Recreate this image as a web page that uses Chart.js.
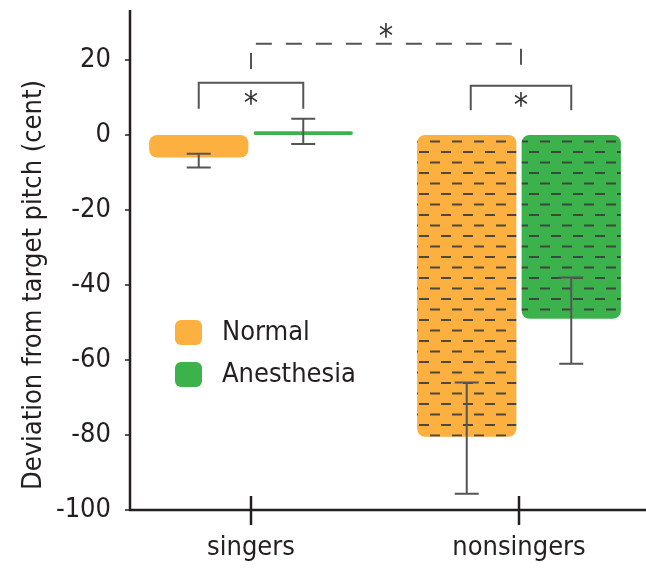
<!DOCTYPE html>
<html>
<head>
<meta charset="utf-8">
<script src="https://cdn.jsdelivr.net/npm/chart.js@4.4.0/dist/chart.umd.min.js"></script>
<style>
  html, body { margin: 0; padding: 0; background: #fff; overflow: hidden; }
  #wrap { width: 660px; height: 568px; }
</style>
</head>
<body>
<div id="wrap"><canvas id="pitchChart"></canvas></div>
<script>
// data
var groups = ['singers', 'nonsingers'];
var seriesNames = ['Normal', 'Anesthesia'];
var normalMean = [-6, -80.5];
var anesthesiaMean = [1, -49];
var normalErrHigh = [-5, -66];
var normalErrLow = [-8.7, -95.7];
var anesthesiaErrHigh = [4.3, -38];
var anesthesiaErrLow = [-2.4, -61];
var yTicks = [-100, -80, -60, -40, -20, 0, 20];

var FONT = '"Liberation Sans Narrow", "DejaVu Sans Condensed", sans-serif';
var INK = '#231f20';
var ORANGE = '#fbb040';
var GREEN = '#3cb24c';

Chart.defaults.font.family = FONT;
Chart.defaults.color = INK;

// horizontal dash hatch on top of a base colour
function hatch(base) {
    var c = document.createElement('canvas');
    c.width = 22; c.height = 21;
    var g = c.getContext('2d');
    g.fillStyle = base;
    g.fillRect(0, 0, 22, 21);
    g.fillStyle = 'rgba(60,60,60,0.9)';
    g.fillRect(1, 4, 10, 2);
    g.fillRect(12, 14.5, 10, 2);
    return g.createPattern(c, 'repeat');
}

var errors = [[normalErrHigh, normalErrLow], [anesthesiaErrHigh, anesthesiaErrLow]];

var overlay = {
    id: 'overlay',
    afterDraw: function (chart) {
        var ctx = chart.ctx, x = chart.scales.x, y = chart.scales.y;
        var ca = chart.chartArea;
        var W = chart.width;
        ctx.save();

        // axes
        ctx.strokeStyle = INK;
        ctx.lineWidth = 2.5;
        ctx.beginPath();
        ctx.moveTo(130, ca.top);
        ctx.lineTo(130, ca.bottom);
        ctx.lineTo(W, ca.bottom);
        ctx.stroke();
        ctx.lineWidth = 1.5;
        yTicks.forEach(function (v) {
            var py = y.getPixelForValue(v);
            ctx.beginPath();
            ctx.moveTo(125, py);
            ctx.lineTo(130, py);
            ctx.stroke();
        });
        ctx.lineWidth = 2.5;
        groups.forEach(function (g, i) {
            var px = x.getPixelForValue(i);
            ctx.beginPath();
            ctx.moveTo(px, ca.bottom - 14);
            ctx.lineTo(px, ca.bottom + 15);
            ctx.stroke();
        });

        // axis title
        ctx.fillStyle = INK;
        ctx.font = '27px ' + FONT;
        ctx.textAlign = 'center';
        ctx.textBaseline = 'middle';
        ctx.save();
        ctx.translate(34, 285);
        ctx.rotate(-Math.PI / 2);
        ctx.fillText('Deviation from target pitch (cent)', 0, 0);
        ctx.restore();

        // error bars
        ctx.strokeStyle = '#555';
        ctx.lineWidth = 2;
        errors.forEach(function (e, d) {
            var meta = chart.getDatasetMeta(d);
            meta.data.forEach(function (bar, j) {
                var top = y.getPixelForValue(e[0][j]);
                var bot = y.getPixelForValue(e[1][j]);
                ctx.beginPath();
                ctx.moveTo(bar.x, top); ctx.lineTo(bar.x, bot);
                ctx.moveTo(bar.x - 12, top); ctx.lineTo(bar.x + 12, top);
                ctx.moveTo(bar.x - 12, bot); ctx.lineTo(bar.x + 12, bot);
                ctx.stroke();
            });
        });

        // significance brackets
        function bracket(x1, x2, vTop, vFoot, dashed) {
            var t = y.getPixelForValue(vTop), f = y.getPixelForValue(vFoot);
            ctx.setLineDash(dashed ? [16, 14] : []);
            ctx.beginPath();
            ctx.moveTo(x1, f); ctx.lineTo(x1, t); ctx.lineTo(x2, t); ctx.lineTo(x2, f);
            ctx.stroke();
            ctx.setLineDash([]);
        }
        function star(px, v) {
            ctx.fillStyle = '#333';
            ctx.font = '32px ' + FONT;
            ctx.textAlign = 'center';
            ctx.textBaseline = 'middle';
            ctx.fillText('*', px, y.getPixelForValue(v) + 7);
        }
        var a0 = chart.getDatasetMeta(0).data, a1 = chart.getDatasetMeta(1).data;
        ctx.strokeStyle = '#555';
        ctx.lineWidth = 2;
        bracket(a0[0].x, a1[0].x, 13.9, 7, false);
        bracket(a0[1].x + 4, a1[1].x, 13.1, 6.6, false);
        var m0 = (a0[0].x + a1[0].x) / 2, m1 = (a0[1].x + 4 + a1[1].x) / 2;
        bracket(m0, m1, 24.3, 17.6, true);
        star(m0, 9.9);
        star(m1, 9.3);
        star((m0 + m1) / 2, 27.7);

        // legend
        ctx.font = '27px ' + FONT;
        ctx.textAlign = 'left';
        chart.data.datasets.forEach(function (ds, i) {
            var top = 320 + i * 42;
            ctx.fillStyle = ds.legendColor;
            ctx.beginPath();
            ctx.roundRect(175, top, 27, 25, 6);
            ctx.fill();
            ctx.fillStyle = INK;
            ctx.fillText(ds.label, 222, top + 13);
        });
        ctx.restore();
    }
};

var ctx = document.getElementById('pitchChart').getContext('2d');
var pitchChart = new Chart(ctx, {
    type: 'bar',
    data: {
        labels: groups,
        datasets: [{
            label: seriesNames[0],
            data: normalMean,
            legendColor: ORANGE,
            backgroundColor: [ORANGE, hatch(ORANGE)]
        }, {
            label: seriesNames[1],
            data: anesthesiaMean,
            legendColor: GREEN,
            backgroundColor: [GREEN, hatch(GREEN)]
        }]
    },
    options: {
        responsive: true,
        maintainAspectRatio: false,
        animation: false,
        layout: { padding: { top: 10, right: 7, bottom: 0, left: 0 } },
        datasets: {
            bar: {
                categoryPercentage: 0.78,
                barPercentage: 0.95,
                borderRadius: 8,
                borderSkipped: false
            }
        },
        plugins: {
            legend: { display: false },
            tooltip: { enabled: false }
        },
        scales: {
            x: {
                afterFit: function (s) { s.height = 58; s.paddingLeft = 0; s.paddingRight = 0; },
                grid: { display: false, drawTicks: false },
                border: { display: false },
                ticks: { font: { size: 27 }, color: INK, padding: 22 }
            },
            y: {
                min: -100,
                max: 33.33,
                afterFit: function (s) { s.width = 117; s.paddingTop = 0; s.paddingBottom = 0; },
                afterBuildTicks: function (s) {
                    s.ticks = yTicks.map(function (v) { return { value: v }; });
                },
                grid: { display: false, drawTicks: false },
                border: { display: false },
                ticks: { font: { size: 27 }, color: INK, padding: 6 }
            }
        }
    },
    plugins: [overlay]
});
</script>
</body>
</html>
